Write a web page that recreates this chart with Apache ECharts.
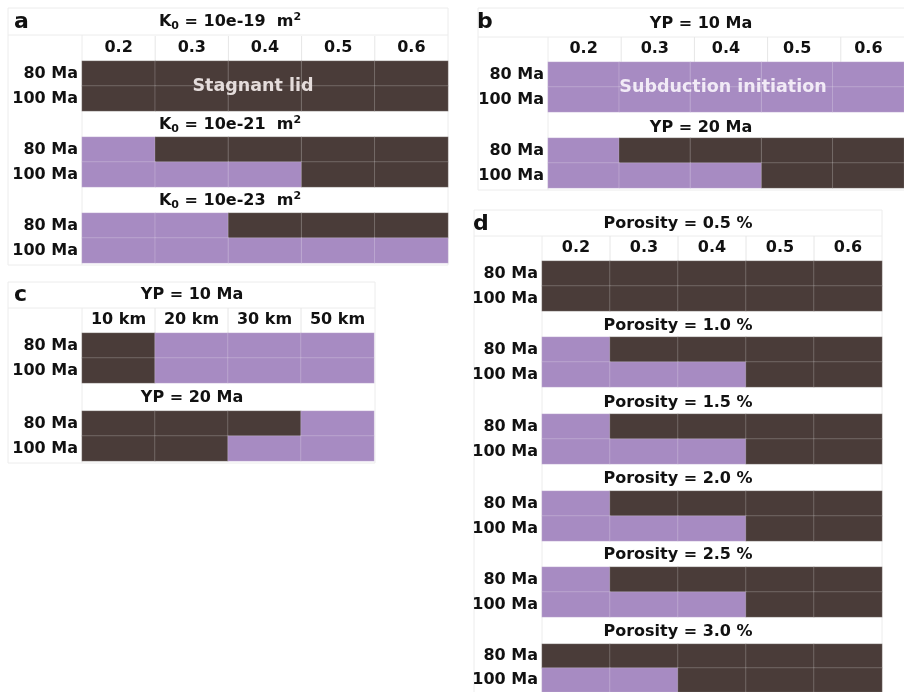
<!DOCTYPE html>
<html>
<head>
<meta charset="utf-8">
<script src="https://cdn.jsdelivr.net/npm/echarts@6/dist/echarts.min.js"></script>
<style>
html,body{margin:0;padding:0;background:#fff;}
#chart{width:904px;height:692px;}
</style>
</head>
<body>
<div id="chart"></div>
<script>
// categories
const coeffs = ['0.2', '0.3', '0.4', '0.5', '0.6'];
const weakZone = ['10 km', '20 km', '30 km', '50 km'];
const ages = ['80 Ma', '100 Ma'];

// outcome per cell: 1 = stagnant lid, 0 = subduction initiation
// rows are [80 Ma, 100 Ma]
const aK19 = [[1, 1, 1, 1, 1], [1, 1, 1, 1, 1]];
const aK21 = [[0, 1, 1, 1, 1], [0, 0, 0, 1, 1]];
const aK23 = [[0, 0, 1, 1, 1], [0, 0, 0, 0, 0]];
const bYP10 = [[0, 0, 0, 0, 0], [0, 0, 0, 0, 0]];
const bYP20 = [[0, 1, 1, 1, 1], [0, 0, 0, 1, 1]];
const cYP10 = [[1, 0, 0, 0], [1, 0, 0, 0]];
const cYP20 = [[1, 1, 1, 0], [1, 1, 0, 0]];
const dPor05 = [[1, 1, 1, 1, 1], [1, 1, 1, 1, 1]];
const dPor10 = [[0, 1, 1, 1, 1], [0, 0, 0, 1, 1]];
const dPor15 = [[0, 1, 1, 1, 1], [0, 0, 0, 1, 1]];
const dPor20 = [[0, 1, 1, 1, 1], [0, 0, 0, 1, 1]];
const dPor25 = [[0, 1, 1, 1, 1], [0, 0, 0, 1, 1]];
const dPor30 = [[1, 1, 1, 1, 1], [0, 0, 1, 1, 1]];

const BROWN = '#4a3c39';
const PURPLE = '#a78bc2';
const FONT = '"DejaVu Sans", "Liberation Sans", sans-serif';

function kTitle(e) {
  return '{n|K}{s|0}{n| = 10e-' + e + '  m}{p|2}';
}

const blocks = [
  {title: kTitle(19), cats: coeffs, vals: aK19, left: 82, top: 61, width: 366, header: true, tx: 230, ty: 22},
  {title: kTitle(21), cats: coeffs, vals: aK21, left: 82, top: 137, width: 366, tx: 230, ty: 125},
  {title: kTitle(23), cats: coeffs, vals: aK23, left: 82, top: 213, width: 366, tx: 230, ty: 201},
  {title: 'YP = 10 Ma', cats: coeffs, vals: bYP10, left: 548, top: 62, width: 366, header: true, tx: 701, ty: 24},
  {title: 'YP = 20 Ma', cats: coeffs, vals: bYP20, left: 548, top: 138, width: 366, tx: 701, ty: 128},
  {title: 'YP = 10 Ma', cats: weakZone, vals: cYP10, left: 82, top: 333, width: 292, header: true, tx: 192, ty: 295},
  {title: 'YP = 20 Ma', cats: weakZone, vals: cYP20, left: 82, top: 411, width: 292, tx: 192, ty: 398},
  {title: 'Porosity = 0.5 %', cats: coeffs, vals: dPor05, left: 542, top: 261, width: 340, header: true, tx: 678, ty: 224},
  {title: 'Porosity = 1.0 %', cats: coeffs, vals: dPor10, left: 542, top: 337, width: 340, tx: 678, ty: 326},
  {title: 'Porosity = 1.5 %', cats: coeffs, vals: dPor15, left: 542, top: 414, width: 340, tx: 678, ty: 403},
  {title: 'Porosity = 2.0 %', cats: coeffs, vals: dPor20, left: 542, top: 491, width: 340, tx: 678, ty: 479},
  {title: 'Porosity = 2.5 %', cats: coeffs, vals: dPor25, left: 542, top: 567, width: 340, tx: 678, ty: 555},
  {title: 'Porosity = 3.0 %', cats: coeffs, vals: dPor30, left: 542, top: 644, width: 340, tx: 678, ty: 632}
];

// faint table frames: [x0, y0, x1, y1, headerLineY, labelColX]
const frames = [
  [8, 8, 448, 265, 35, 82],
  [478, 8, 910, 190, 37, 548],
  [8, 282, 375, 463, 308, 82],
  [474, 210, 882, 700, 236, 542]
];

const grid = [], xAxis = [], yAxis = [], series = [], graphic = [];
const textRich = {
  n: {fontSize: 16, fontWeight: 'bold', fontFamily: FONT, color: '#111', lineHeight: 20},
  s: {fontSize: 11, fontWeight: 'bold', fontFamily: FONT, color: '#111', lineHeight: 12, verticalAlign: 'bottom'},
  p: {fontSize: 11, fontWeight: 'bold', fontFamily: FONT, color: '#111', lineHeight: 12, verticalAlign: 'top'}
};

frames.forEach(f => {
  graphic.push({type: 'rect', silent: true, shape: {x: f[0], y: f[1], width: f[2] - f[0], height: f[3] - f[1]},
    style: {fill: null, stroke: '#ececec', lineWidth: 1}});
  graphic.push({type: 'line', silent: true, shape: {x1: f[0], y1: f[4], x2: f[2], y2: f[4]},
    style: {stroke: '#ececec', lineWidth: 1}});
  graphic.push({type: 'line', silent: true, shape: {x1: f[5], y1: f[4], x2: f[5], y2: f[3]},
    style: {stroke: '#ececec', lineWidth: 1}});
});

blocks.forEach((b, i) => {
  grid.push({left: b.left, top: b.top, width: b.width, height: 50});
  xAxis.push({
    type: 'category', gridIndex: i, data: b.cats, position: 'top',
    axisLine: {show: false}, axisTick: {show: false}, splitLine: {show: false},
    axisLabel: {show: !!b.header, margin: 5, fontSize: 16, fontWeight: 'bold', fontFamily: FONT, color: '#111'}
  });
  yAxis.push({
    type: 'category', gridIndex: i, data: ages, inverse: true,
    axisLine: {show: false}, axisTick: {show: false}, splitLine: {show: false},
    axisLabel: {margin: 4, fontSize: 16, fontWeight: 'bold', fontFamily: FONT, color: '#111'}
  });
  const data = [];
  b.vals.forEach((row, r) => row.forEach((v, c) => data.push([c, r, v])));
  series.push({
    type: 'heatmap', xAxisIndex: i, yAxisIndex: i, data: data,
    itemStyle: {borderColor: 'rgba(255,255,255,0.2)', borderWidth: 1},
    emphasis: {disabled: true}
  });
  if (b.header) {
    // faint separators in the header row
    const cw = b.width / b.cats.length;
    for (let k = 1; k < b.cats.length; k++) {
      graphic.push({type: 'line', silent: true,
        shape: {x1: b.left + k * cw, y1: b.top - 25, x2: b.left + k * cw, y2: b.top},
        style: {stroke: '#e6e6e6', lineWidth: 1}});
    }
  }
  graphic.push({type: 'text', x: b.tx, y: b.ty, silent: true,
    style: {text: b.title, rich: textRich, align: 'center', verticalAlign: 'middle',
      fontSize: 16, fontWeight: 'bold', fontFamily: FONT, fill: '#111'}});
});

// panel letters
[['a', 14, 22], ['b', 477, 22], ['c', 14, 295], ['d', 473, 224]].forEach(p => {
  graphic.push({type: 'text', x: p[1], y: p[2], silent: true,
    style: {text: p[0], fontSize: 22, fontWeight: 'bold', fontFamily: FONT, fill: '#111', verticalAlign: 'middle'}});
});

// regime annotations
graphic.push({type: 'text', x: 253, y: 86, silent: true, z: 100,
  style: {text: 'Stagnant lid', fontSize: 17.5, fontWeight: 'bold', fontFamily: FONT, fill: '#e4dcdb',
    align: 'center', verticalAlign: 'middle'}});
graphic.push({type: 'text', x: 723, y: 87, silent: true, z: 100,
  style: {text: 'Subduction initiation', fontSize: 17.5, fontWeight: 'bold', fontFamily: FONT, fill: '#f1eaf6',
    align: 'center', verticalAlign: 'middle'}});

const chart = echarts.init(document.getElementById('chart'));
chart.setOption({
  animation: false,
  backgroundColor: '#fff',
  grid: grid,
  xAxis: xAxis,
  yAxis: yAxis,
  visualMap: {
    type: 'piecewise', show: false,
    pieces: [{value: 0, color: PURPLE}, {value: 1, color: BROWN}]
  },
  graphic: graphic,
  series: series
});
</script>
</body>
</html>
